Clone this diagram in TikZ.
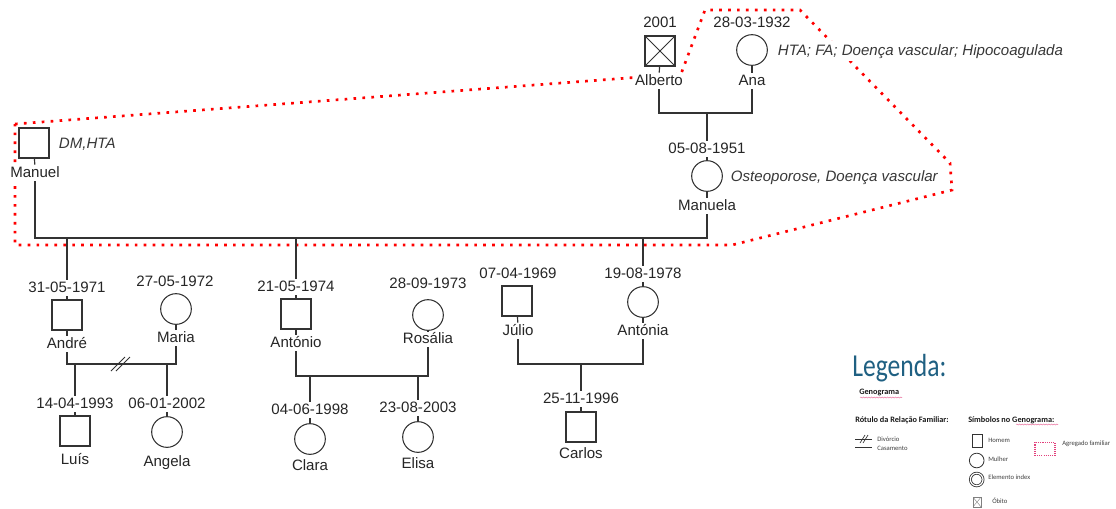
\documentclass[tikz,border=0pt]{standalone}
\usepackage{fontspec}
\setmainfont{Liberation Sans}
\newfontfamily\legfont{Carlito}
\usetikzlibrary{decorations.pathmorphing}

\definecolor{linegray}{RGB}{51,51,51}
\definecolor{legblue}{RGB}{31,96,130}
\definecolor{agrpink}{RGB}{226,64,124}

\begin{document}
\begin{tikzpicture}[x=0.75pt, y=-0.75pt,
    man/.style={draw=linegray, line width=0.8pt, minimum size=22.5pt, inner sep=0pt},
    woman/.style={draw=linegray, line width=0.8pt, circle, minimum size=23pt, inner sep=0pt},
    dead/.style={man, path picture={\draw[linegray, line width=0.6pt]
        (path picture bounding box.north west) -- (path picture bounding box.south east)
        (path picture bounding box.north east) -- (path picture bounding box.south west);}},
    txt/.style={font=\fontsize{11.3}{13}\selectfont, text=black!85, fill=white, inner sep=1pt,
                text height=8.1pt, text depth=2pt, anchor=base},
    note/.style={font=\fontsize{11.3}{13}\selectfont\itshape, text=black!78, fill=white,
                 anchor=base west, inner sep=2pt},
    link/.style={draw=linegray, line width=0.9pt},
    agregado/.style={draw=red, line width=2pt, dash pattern=on 2pt off 4.7pt},
    legtitle/.style={font=\legfont\fontsize{24}{28}\selectfont, text=legblue, anchor=base west, inner sep=0pt},
    leghead/.style={font=\legfont\bfseries\fontsize{6.2}{7}\selectfont, text=black!90, anchor=west, inner sep=0pt},
    legtxt/.style={font=\legfont\fontsize{5}{6}\selectfont, text=black!75, anchor=west, inner sep=0pt},
    spell/.style={agrpink!70, line width=0.4pt, decorate, decoration={snake, amplitude=0.35pt, segment length=2pt}}
  ]
  \useasboundingbox (0,0) rectangle (1116,508);

  % agregado familiar
  \draw[agregado] (15,124) -- (681,74) -- (705,10) -- (800,10) -- (950,163) -- (952,190)
    -- (732,245) -- (15,245) -- cycle;

  % avos
  \node[dead] (alberto) at (660,51) {};
  \node[txt] (dalberto) at (660,27) {2001};
  \node[txt] (lalberto) at (659,85) {Alberto};
  \node[woman] (ana) at (752,50) {};
  \node[txt] (dana) at (752,27) {28-03-1932};
  \node[txt] (lana) at (752,85) {Ana};
  \node[note] (nana) at (775,55) {HTA; FA; Doença vascular; Hipocoagulada};

  % pais
  \node[man] (manuel) at (34,143) {};
  \node[txt] (lmanuel) at (35,177) {Manuel};
  \node[note] (nmanuel) at (56,148) {DM,HTA};
  \node[woman] (manuela) at (707,176) {};
  \node[txt] (dmanuela) at (707,153) {05-08-1951};
  \node[txt] (lmanuela) at (707,210) {Manuela};
  \node[note] (nmanuela) at (728,181) {Osteoporose, Doença vascular};

  % filhos e conjuges
  \node[man] (andre) at (67,315) {};
  \node[txt] (dandre) at (67,292) {31-05-1971};
  \node[txt] (landre) at (67,348) {André};
  \node[woman] (maria) at (176,309) {};
  \node[txt] (dmaria) at (175,286) {27-05-1972};
  \node[txt] (lmaria) at (176,342) {Maria};
  \node[man] (antonio) at (296,314) {};
  \node[txt] (dantonio) at (296,291) {21-05-1974};
  \node[txt] (lantonio) at (296,347) {António};
  \node[woman] (rosalia) at (428,315) {};
  \node[txt] (drosalia) at (428,288) {28-09-1973};
  \node[txt] (lrosalia) at (428,343) {Rosália};
  \node[man] (julio) at (517,301) {};
  \node[txt] (djulio) at (518,278) {07-04-1969};
  \node[txt] (ljulio) at (518,335) {Júlio};
  \node[woman] (antonia) at (643,302) {};
  \node[txt] (dantonia) at (643,278) {19-08-1978};
  \node[txt] (lantonia) at (643,335) {Antónia};

  % netos
  \node[man] (luis) at (75,431) {};
  \node[txt] (dluis) at (75,408) {14-04-1993};
  \node[txt] (lluis) at (75,464) {Luís};
  \node[woman] (angela) at (167,432) {};
  \node[txt] (dangela) at (167,408) {06-01-2002};
  \node[txt] (langela) at (167,466) {Angela};
  \node[woman] (clara) at (310,439) {};
  \node[txt] (dclara) at (310,414) {04-06-1998};
  \node[txt] (lclara) at (310,470) {Clara};
  \node[woman] (elisa) at (418,437) {};
  \node[txt] (delisa) at (418,412) {23-08-2003};
  \node[txt] (lelisa) at (418,468) {Elisa};
  \node[man] (carlos) at (581,427) {};
  \node[txt] (dcarlos) at (581,403) {25-11-1996};
  \node[txt] (lcarlos) at (581,458) {Carlos};

  % Alberto + Ana
  \coordinate (c1) at (707,113);
  \draw[link] (alberto) -- (lalberto);
  \draw[link] (ana) -- (lana);
  \draw[link] (lalberto) |- (c1) -| (lana);
  \draw[link] (c1) -- (dmanuela);
  \draw[link] (dmanuela) -- (manuela);

  % Manuel + Manuela
  \coordinate (c2) at (360,238);
  \draw[link] (manuel) -- (lmanuel);
  \draw[link] (manuela) -- (lmanuela);
  \draw[link] (lmanuel) |- (c2) -| (lmanuela);
  \draw[link] (andre |- c2) -- (dandre);
  \draw[link] (antonio |- c2) -- (dantonio);
  \draw[link] (antonia |- c2) -- (dantonia);
  \draw[link] (dandre) -- (andre);
  \draw[link] (dantonio) -- (antonio);
  \draw[link] (dantonia) -- (antonia);

  % André + Maria (divorcio)
  \coordinate (c3) at (120,364);
  \draw[link] (andre) -- (landre);
  \draw[link] (maria) -- (lmaria);
  \draw[link] (landre) |- (c3) -| (lmaria);
  \draw[link, line width=0.7pt] (c3) ++(-9,7) -- ++(14,-14) (c3) ++(-4,7) -- ++(14,-14);
  \draw[link] (luis |- c3) -- (dluis);
  \draw[link] (angela |- c3) -- (dangela);
  \draw[link] (dluis) -- (luis);
  \draw[link] (dangela) -- (angela);

  % António + Rosália
  \coordinate (c4) at (360,376);
  \draw[link] (antonio) -- (lantonio);
  \draw[link] (rosalia) -- (lrosalia);
  \draw[link] (lantonio) |- (c4) -| (lrosalia);
  \draw[link] (clara |- c4) -- (dclara);
  \draw[link] (elisa |- c4) -- (delisa);
  \draw[link] (dclara) -- (clara);
  \draw[link] (delisa) -- (elisa);

  % Júlio + Antónia
  \coordinate (c5) at (581,364);
  \draw[link] (julio) -- (ljulio);
  \draw[link] (antonia) -- (lantonia);
  \draw[link] (ljulio) |- (c5) -| (lantonia);
  \draw[link] (c5) -- (dcarlos);
  \draw[link] (dcarlos) -- (carlos);

  % legenda
  \node[legtitle] (legenda) at (852,376) {\scalebox{0.8}[1]{Legenda:}};
  \node[leghead, anchor=base west] (genograma) at (859,394) {Genograma};
  \draw[spell] (860,397.5) -- (902,397.5);
  \node[leghead] (rotulo) at (855,420) {Rótulo da Relação Familiar:};
  \node[leghead] (simbolos) at (968,420) {Símbolos no Genograma:};
  \draw[spell] (1016,424.5) -- (1058,424.5);

  \draw[linegray, line width=0.6pt] (855,439) -- (872,439);
  \draw[linegray, line width=0.5pt] (860,443) -- (865,435) (863,443) -- (868,435);
  \node[legtxt] (ldivorcio) at (877,439) {Divórcio};
  \draw[linegray, line width=0.6pt] (855,447) -- (872,447);
  \node[legtxt] (lcasamento) at (877,448) {Casamento};

  \node[draw=linegray, line width=0.6pt, minimum width=7.5pt, minimum height=9.2pt, inner sep=0pt] (khomem) at (977.7,441) {};
  \node[legtxt] (lhomem) at (988,440) {Homem};
  \node[draw=linegray, line width=0.6pt, circle, minimum size=11pt, inner sep=0pt] (kmulher) at (976.7,460.5) {};
  \node[legtxt] (lmulher) at (988,459) {Mulher};
  \node[draw=linegray, line width=0.6pt, double, double distance=0.9pt, circle, minimum size=9.5pt, inner sep=0pt] (kindex) at (976.7,479.5) {};
  \node[legtxt] (lindex) at (988,477) {Elemento índex};
  \node[draw=gray, line width=0.4pt, minimum width=6pt, minimum height=7.2pt, inner sep=0pt,
        path picture={\draw[gray, line width=0.3pt]
          (path picture bounding box.north west) -- (path picture bounding box.south east)
          (path picture bounding box.north east) -- (path picture bounding box.south west);}] (kobito) at (977,502) {};
  \node[legtxt] (lobito) at (992,501) {Óbito};
  \node[draw=agrpink, line width=0.8pt, dash pattern=on 0.8pt off 0.8pt, minimum width=15pt, minimum height=10pt, inner sep=0pt] (kagregado) at (1045,449) {};
  \node[legtxt] (lagregado) at (1062,444) {Agregado familiar};
\end{tikzpicture}
\end{document}
